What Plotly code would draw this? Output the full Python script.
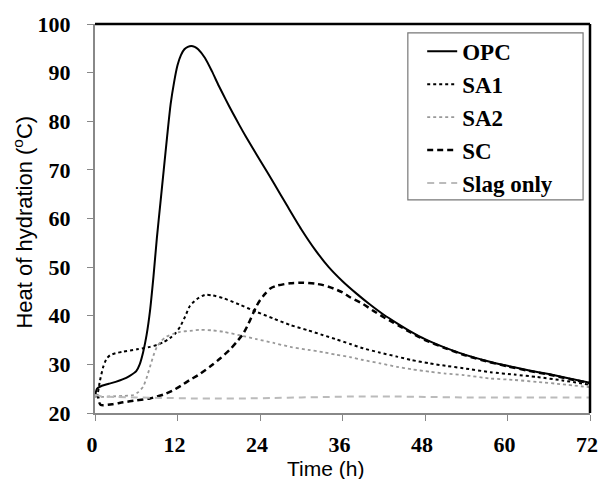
import plotly.graph_objects as go

# ---------------- data ----------------
opc_t = [0, 0.3, 1, 2, 3, 4, 5, 6, 6.5, 7, 7.5, 8, 8.5, 9, 9.5, 10, 10.5, 11, 11.5, 12, 12.5, 13, 13.5, 14,
         14.5, 15, 16, 17, 18, 19, 20, 21, 22, 24, 26, 28, 30, 32, 34, 36, 38, 40, 42, 44, 46, 48, 51, 54,
         57, 60, 63, 66, 69, 72]
opc_v = [23.5, 25.0, 25.6, 26.0, 26.4, 26.9, 27.6, 28.6, 30.0, 32.5, 36.0, 41.0, 48.0, 56.0, 63.0, 70.0,
         77.0, 83.5, 88.0, 91.5, 93.6, 94.8, 95.3, 95.5, 95.3, 94.8, 93.0, 90.3, 87.3, 84.5, 81.8, 79.2, 76.7,
         72.0, 67.3, 62.5, 57.8, 53.6, 50.0, 47.1, 44.6, 42.3, 40.2, 38.4, 36.7, 35.2, 33.4, 31.9, 30.7, 29.7,
         28.8, 28.0, 27.1, 26.2]

sa1_t = [0, 0.3, 0.7, 1.2, 1.7, 2.2, 3, 4.1, 6.1, 8, 9, 10, 10.9, 11.7, 12.4, 13.1, 13.8, 14.8, 16.0, 17.0,
         18.7, 21, 23.5, 26, 28.4, 31, 33.2, 35, 37.1, 39, 41.5, 43.9, 46, 48.7, 51, 53.6, 57.5, 61, 64.3, 68, 72]
sa1_v = [23.4, 23.6, 26.5, 29.5, 31.2, 31.9, 32.3, 32.6, 33.1, 33.6, 34.0, 34.6, 35.4, 36.4, 37.8, 39.8,
         42.0, 43.4, 44.3, 44.2, 43.6, 42.3, 40.8, 39.4, 38.1, 37.0, 36.0, 35.2, 34.2, 33.3, 32.4, 31.6, 30.9,
         30.2, 29.7, 29.2, 28.4, 27.9, 27.4, 26.7, 25.8]

sa2_t = [0, 0.5, 2.2, 4, 5.6, 6.3, 7.0, 7.5, 8.0, 8.5, 9.0, 9.7, 10.4, 11.4, 12.4, 13.8, 15.3, 17, 18.7, 21,
         23.5, 26, 28.4, 31, 33.2, 35, 37.1, 39, 41.5, 43.9, 46, 48.7, 51, 53.6, 57.5, 61, 64.3, 68, 72]
sa2_v = [23.4, 23.3, 23.4, 23.5, 23.7, 24.3, 25.4, 27.2, 29.5, 31.8, 33.6, 34.9, 35.7, 36.3, 36.7, 36.9,
         37.1, 37.0, 36.7, 36.0, 35.2, 34.4, 33.6, 33.0, 32.5, 32.0, 31.5, 30.9, 30.2, 29.5, 29.0, 28.5, 28.1,
         27.8, 27.1, 26.8, 26.4, 25.9, 25.3]

sc_t = [0, 0.4, 0.6, 0.8, 1.2, 2.5, 4.1, 6, 8.0, 10, 11.4, 12.6, 13.8, 15.0, 16.7, 18.2, 19.6, 20.6, 21.6,
        22.3, 23.0, 23.5, 24.0, 24.8, 25.5, 26.5, 28.4, 30.3, 32, 33.2, 34.7, 36, 37.1, 39.0, 40.5, 42.0,
        43.4, 44.5, 46, 48, 51, 54, 57, 60, 63, 66, 69, 72]
sc_v = [23.8, 23.6, 22.2, 21.7, 21.6, 21.8, 22.2, 22.6, 23.0, 23.8, 24.7, 25.7, 26.8, 27.8, 29.5, 31.2, 33.0,
        34.6, 36.4, 38.3, 40.5, 42.0, 43.2, 44.6, 45.6, 46.2, 46.7, 46.8, 46.6, 46.3, 45.6, 44.8, 43.8, 42.4,
        41.0, 39.7, 38.6, 37.7, 36.5, 35.0, 33.3, 31.8, 30.6, 29.6, 28.7, 27.9, 27.0, 26.1]

slag_t = [0, 0.5, 1, 3, 6, 10, 14, 18, 22, 26, 30, 34, 38, 43, 48, 54, 60, 66, 72]
slag_v = [23.7, 23.6, 23.4, 23.3, 23.2, 23.1, 23.0, 23.0, 23.0, 23.1, 23.2, 23.3, 23.4, 23.4, 23.3, 23.2,
          23.2, 23.2, 23.2]

x_ticks = [0, 12, 24, 36, 48, 60, 72]
y_ticks = [20, 30, 40, 50, 60, 70, 80, 90, 100]

x_title = "Time (h)"
y_title = "Heat of hydration (<sup>o</sup>C)"

# ---------------- figure ----------------
spl = dict(shape="spline", smoothing=0.6)
fig = go.Figure()
fig.add_trace(go.Scatter(x=opc_t, y=opc_v, name="OPC", mode="lines",
                         line=dict(color="black", width=2, **spl)))
fig.add_trace(go.Scatter(x=sa1_t, y=sa1_v, name="SA1", mode="lines",
                         line=dict(color="black", width=2, dash="dot", **spl)))
fig.add_trace(go.Scatter(x=sa2_t, y=sa2_v, name="SA2", mode="lines",
                         line=dict(color="#999999", width=1.8, dash="dot", **spl)))
fig.add_trace(go.Scatter(x=sc_t, y=sc_v, name="SC", mode="lines",
                         line=dict(color="black", width=2.5, dash="6px,4px", **spl)))
fig.add_trace(go.Scatter(x=slag_t, y=slag_v, name="Slag only", mode="lines",
                         line=dict(color="#bbbbbb", width=2, dash="7px,5px", **spl)))

tickfont = dict(family="Liberation Serif", size=22, color="black", weight="bold")
fig.update_layout(
    width=599, height=479, autosize=False,
    margin=dict(l=95, r=9, t=24, b=66),
    paper_bgcolor="white", plot_bgcolor="white",
    showlegend=True,
    legend=dict(x=0.661, y=0.985, xanchor="left", yanchor="top",
                bgcolor="rgba(0,0,0,0)", borderwidth=0,
                font=dict(family="Liberation Serif", size=23, color="black", weight="bold"),
                itemwidth=30, tracegroupgap=0),
    xaxis=dict(range=[0, 72], tickvals=x_ticks, ticktext=[str(v) for v in x_ticks],
               ticks="outside", ticklen=6, tickcolor="#888888", tickwidth=1,
               ticklabelstandoff=5, ticklabelshift=-3, ticklabeloverflow="allow", automargin=False,
               showline=True, linecolor="#888888", linewidth=2, showgrid=False, zeroline=False,
               tickfont=tickfont),
    yaxis=dict(range=[20, 100], tickvals=y_ticks, ticktext=[str(v) for v in y_ticks],
               ticks="outside", ticklen=6, tickcolor="#888888", tickwidth=1,
               ticklabelstandoff=12, ticklabeloverflow="allow", automargin=False,
               showline=True, linecolor="#888888", linewidth=2, showgrid=False, zeroline=False,
               tickfont=tickfont),
    annotations=[
        dict(text=x_title, xref="paper", yref="paper", x=0.465, y=-0.142,
             xanchor="center", yanchor="middle", showarrow=False,
             font=dict(family="Liberation Sans", size=21, color="black")),
        dict(text=y_title, xref="paper", yref="paper", x=-0.145, y=0.49,
             xanchor="center", yanchor="middle", showarrow=False, textangle=-90,
             font=dict(family="Liberation Sans", size=22, color="black")),
    ],
    shapes=[
        dict(type="line", xref="paper", yref="paper", x0=0, x1=1, y0=1, y1=1,
             line=dict(color="black", width=2.5)),
        dict(type="line", xref="paper", yref="paper", x0=1, x1=1, y0=0, y1=1,
             line=dict(color="black", width=2.5)),
        dict(type="rect", xref="paper", yref="paper", x0=0.632, x1=0.986, y0=0.548, y1=0.977,
             line=dict(color="#777777", width=1.2), fillcolor="rgba(0,0,0,0)"),
    ],
)

post = (
    "document.documentElement.style.overflow='hidden';"
    "document.body.style.margin='0';"
    "document.body.style.overflow='hidden';"
)
fig.write_html("out.html", config={"displayModeBar": False, "responsive": False}, post_script=post)
